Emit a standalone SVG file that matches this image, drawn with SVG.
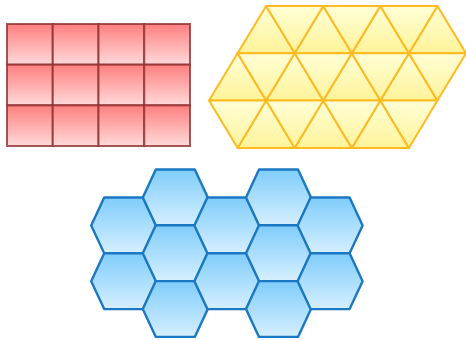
<svg xmlns="http://www.w3.org/2000/svg" xmlns:xlink="http://www.w3.org/1999/xlink" width="466" height="340" viewBox="0 0 466 340">
<defs>
<linearGradient id="gr" x1="0" y1="0" x2="0" y2="1"><stop offset="0" stop-color="#ff7f7f"/><stop offset="1" stop-color="#ffdada"/></linearGradient>
<linearGradient id="gy" x1="0" y1="0" x2="0" y2="1"><stop offset="0" stop-color="#ffffd6"/><stop offset="1" stop-color="#fff39a"/></linearGradient>
<linearGradient id="gb" x1="0" y1="0" x2="0" y2="1"><stop offset="0" stop-color="#7fcdfb"/><stop offset="1" stop-color="#d6efff"/></linearGradient>
<polygon id="hex" points="0,0 13,-27.9 52,-27.9 65,0 52,27.9 13,27.9"/>
<rect id="sq" width="45.75" height="40.67"/>
</defs>
<style>
.r{fill:url(#gr);stroke:#8e3030;stroke-opacity:0.8;stroke-width:2}
.y polygon{fill:url(#gy);stroke:#ffbb22;stroke-width:2;stroke-linejoin:round}
.h{fill:url(#gb);stroke:#1b78c4;stroke-width:2.4;stroke-linejoin:round}
</style>
<g id="squares">
<use xlink:href="#sq" class="r" x="7" y="24"/><use xlink:href="#sq" class="r" x="52.75" y="24"/><use xlink:href="#sq" class="r" x="98.5" y="24"/><use xlink:href="#sq" class="r" x="144.25" y="24"/>
<use xlink:href="#sq" class="r" x="7" y="64.67"/><use xlink:href="#sq" class="r" x="52.75" y="64.67"/><use xlink:href="#sq" class="r" x="98.5" y="64.67"/><use xlink:href="#sq" class="r" x="144.25" y="64.67"/>
<use xlink:href="#sq" class="r" x="7" y="105.33"/><use xlink:href="#sq" class="r" x="52.75" y="105.33"/><use xlink:href="#sq" class="r" x="98.5" y="105.33"/><use xlink:href="#sq" class="r" x="144.25" y="105.33"/>
</g>
<g id="triangles" class="y">
<polygon points="237.6,53.3 294.7,53.3 266.1,6"/>
<polygon points="294.7,53.3 351.8,53.3 323.2,6"/>
<polygon points="351.8,53.3 408.9,53.3 380.3,6"/>
<polygon points="408.9,53.3 466,53.3 437.4,6"/>
<polygon points="266.1,6 323.2,6 294.7,53.3"/>
<polygon points="323.2,6 380.3,6 351.8,53.3"/>
<polygon points="380.3,6 437.4,6 408.9,53.3"/>
<polygon points="209,100.6 266.1,100.6 237.6,53.3"/>
<polygon points="266.1,100.6 323.2,100.6 294.7,53.3"/>
<polygon points="323.2,100.6 380.3,100.6 351.8,53.3"/>
<polygon points="380.3,100.6 437.4,100.6 408.9,53.3"/>
<polygon points="237.6,53.3 294.7,53.3 266.1,100.6"/>
<polygon points="294.7,53.3 351.8,53.3 323.2,100.6"/>
<polygon points="351.8,53.3 408.9,53.3 380.3,100.6"/>
<polygon points="408.9,53.3 466,53.3 437.4,100.6"/>
<polygon points="237.6,148 294.7,148 266.1,100.6"/>
<polygon points="294.7,148 351.8,148 323.2,100.6"/>
<polygon points="351.8,148 408.9,148 380.3,100.6"/>
<polygon points="209,100.6 266.1,100.6 237.6,148"/>
<polygon points="266.1,100.6 323.2,100.6 294.7,148"/>
<polygon points="323.2,100.6 380.3,100.6 351.8,148"/>
<polygon points="380.3,100.6 437.4,100.6 408.9,148"/>
</g>
<g id="hexagons">
<use xlink:href="#hex" class="h" x="91.2" y="225.4"/><use xlink:href="#hex" class="h" x="91.2" y="281.2"/>
<use xlink:href="#hex" class="h" x="142.8" y="197.4"/><use xlink:href="#hex" class="h" x="142.8" y="253.2"/><use xlink:href="#hex" class="h" x="142.8" y="309"/>
<use xlink:href="#hex" class="h" x="194.4" y="225.4"/><use xlink:href="#hex" class="h" x="194.4" y="281.2"/>
<use xlink:href="#hex" class="h" x="246" y="197.4"/><use xlink:href="#hex" class="h" x="246" y="253.2"/><use xlink:href="#hex" class="h" x="246" y="309"/>
<use xlink:href="#hex" class="h" x="297.6" y="225.4"/><use xlink:href="#hex" class="h" x="297.6" y="281.2"/>
</g>
</svg>
